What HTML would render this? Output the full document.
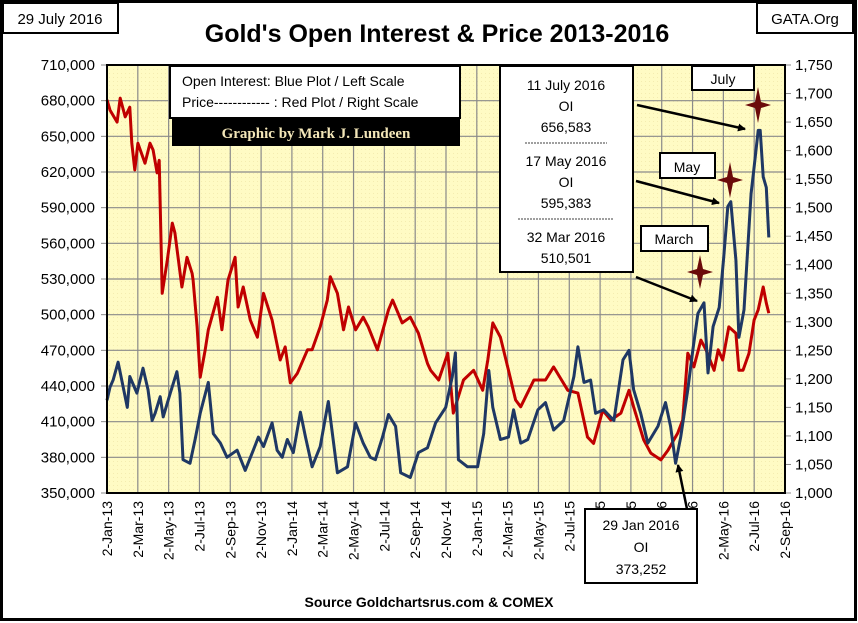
<!DOCTYPE html>
<html><head><meta charset="utf-8">
<style>
html,body{margin:0;padding:0;background:#fff;}
svg{display:block;font-family:"Liberation Sans",Calibri,sans-serif;}
</style></head>
<body>
<svg id="chart" width="858" height="623" viewBox="0 0 858 623" xmlns="http://www.w3.org/2000/svg">
<defs>
<pattern id="dots" width="4" height="4" patternUnits="userSpaceOnUse"><rect width="4" height="4" fill="#fffbc4"/><rect x="1" y="1" width="1" height="1" fill="#f4ecb0"/></pattern>
<marker id="ah" markerWidth="8" markerHeight="8" refX="7" refY="4" orient="auto" markerUnits="userSpaceOnUse"><path d="M0,0 L8,4 L0,8 z" fill="#000"/></marker>
</defs>
<rect x="1.5" y="1.5" width="854" height="618" fill="#fff" stroke="#000" stroke-width="3"/>
<g><rect x="3" y="3" width="115" height="30" fill="#fff" stroke="#000" stroke-width="2"/><text x="60" y="24" font-size="15" text-anchor="middle">29 July 2016</text></g>
<g><rect x="757" y="3" width="96" height="30" fill="#fff" stroke="#000" stroke-width="2"/><text x="805" y="24" font-size="15" text-anchor="middle">GATA.Org</text></g>
<text x="437" y="42" font-size="25" font-weight="bold" text-anchor="middle">Gold's Open Interest &amp; Price 2013-2016</text>
<rect x="107" y="65" width="678" height="428" fill="url(#dots)"/>
<g id="grid"></g>
<g id="axes"></g>
<g id="series"></g>
<rect x="107" y="65" width="678" height="428" fill="none" stroke="#000" stroke-width="2"/>
<g>
<rect x="170" y="66" width="290" height="52" fill="#fff" stroke="#000" stroke-width="2"/>
<text x="182" y="86" font-size="14">Open Interest:  Blue Plot / Left Scale</text>
<text x="182" y="107" font-size="14">Price------------ : Red Plot / Right Scale</text>
<rect x="172" y="119" width="288" height="27" fill="#000"/>
<text x="316" y="138" font-size="15" font-weight="bold" fill="#f3e6b8" text-anchor="middle" font-family="Liberation Serif,serif">Graphic by Mark J. Lundeen</text>
</g>
<g font-size="14" text-anchor="middle">
<rect x="500" y="66" width="133" height="206" fill="#fff" stroke="#000" stroke-width="2"/>
<text x="566" y="90">11 July 2016</text><text x="566" y="111">OI</text><text x="566" y="132">656,583</text>
<line x1="525" y1="143" x2="607" y2="143" stroke="#000" stroke-width="0.8" stroke-dasharray="2,1"/>
<text x="566" y="166">17 May 2016</text><text x="566" y="187">OI</text><text x="566" y="208">595,383</text>
<line x1="518" y1="219" x2="614" y2="219" stroke="#000" stroke-width="0.8" stroke-dasharray="2,1"/>
<text x="566" y="242">32 Mar 2016</text><text x="566" y="263">510,501</text>
</g>
<g><rect x="692" y="66" width="62" height="24" fill="#fff" stroke="#000" stroke-width="2"/><text x="723" y="84" font-size="14" text-anchor="middle">July</text></g>
<g><rect x="660" y="153" width="55" height="25" fill="#fff" stroke="#000" stroke-width="2"/><text x="687" y="172" font-size="14" text-anchor="middle">May</text></g>
<g><rect x="641" y="226" width="67" height="25" fill="#fff" stroke="#000" stroke-width="2"/><text x="674" y="244" font-size="14" text-anchor="middle">March</text></g>
<g font-size="14" text-anchor="middle">
<rect x="585" y="509" width="112" height="74" fill="#fff" stroke="#000" stroke-width="2"/>
<text x="641" y="530">29 Jan 2016</text><text x="641" y="552">OI</text><text x="641" y="574">373,252</text>
</g>
<g stroke="#000" stroke-width="2.5" fill="none">
<line x1="637" y1="105" x2="745" y2="129" marker-end="url(#ah)"/>
<line x1="636" y1="181" x2="719" y2="203" marker-end="url(#ah)"/>
<line x1="636" y1="277" x2="697" y2="301" marker-end="url(#ah)"/>
<line x1="687" y1="509" x2="678" y2="465" marker-end="url(#ah)"/>
</g>
<g fill="#6b0a0a">
<path d="M700,255 L703,269 L713,272 L703,275 L700,289 L697,275 L687,272 L697,269 Z"/>
<path d="M730,162 L733,177 L743,180 L733,183 L730,198 L727,183 L717,180 L727,177 Z"/>
<path d="M758,87 L761,102 L771,105 L761,108 L758,123 L755,108 L745,105 L755,102 Z"/>
</g>
<text x="429" y="607" font-size="14" font-weight="bold" text-anchor="middle">Source Goldchartsrus.com &amp; COMEX</text>
</svg>
<script>
const xTickLabels = ["2-Jan-13","2-Mar-13","2-May-13","2-Jul-13","2-Sep-13","2-Nov-13","2-Jan-14","2-Mar-14","2-May-14","2-Jul-14","2-Sep-14","2-Nov-14","2-Jan-15","2-Mar-15","2-May-15","2-Jul-15","2-Sep-15","2-Nov-15","2-Jan-16","2-Mar-16","2-May-16","2-Jul-16","2-Sep-16"];
const leftTicks = [350000,380000,410000,440000,470000,500000,530000,560000,590000,620000,650000,680000,710000];
const rightTicks = [1000,1050,1100,1150,1200,1250,1300,1350,1400,1450,1500,1550,1600,1650,1700,1750];
// days since 2-Jan-2013
const priceDays = [0,6,20,26,36,45,49,55,61,75,85,91,99,103,109,119,129,134,148,158,168,170,178,184,194,200,218,227,239,253,259,269,283,297,309,326,342,352,362,376,396,405,421,435,441,455,467,477,491,506,516,534,556,564,583,599,615,633,639,655,673,684,704,724,742,752,762,777,793,807,817,843,866,882,910,930,949,961,979,995,1015,1031,1040,1060,1074,1094,1108,1127,1137,1147,1159,1173,1183,1199,1207,1216,1228,1242,1248,1256,1268,1278,1286,1296,1302,1307];
const priceValues = [1689,1671,1650,1692,1659,1676,1613,1566,1613,1578,1613,1601,1561,1583,1350,1408,1473,1456,1361,1413,1385,1373,1291,1203,1251,1286,1343,1286,1373,1413,1326,1361,1303,1273,1350,1303,1233,1256,1193,1210,1251,1251,1291,1338,1379,1350,1286,1326,1286,1308,1291,1251,1321,1338,1298,1308,1280,1227,1215,1198,1245,1140,1198,1215,1180,1233,1298,1273,1215,1163,1151,1198,1198,1221,1180,1175,1098,1087,1145,1128,1140,1180,1151,1093,1070,1058,1075,1105,1128,1245,1221,1268,1251,1215,1251,1233,1291,1280,1215,1215,1245,1303,1321,1361,1333,1315,1350];
const oiDays = [0,6,12,22,32,40,45,59,71,81,89,95,105,111,125,138,144,150,164,174,184,200,210,224,237,257,273,289,299,309,326,336,346,356,368,382,392,405,421,437,455,475,491,506,520,530,544,556,570,580,599,615,633,649,669,682,688,694,712,732,744,754,762,777,793,803,817,831,851,866,882,902,922,930,942,955,965,981,1001,1019,1031,1040,1054,1068,1088,1103,1113,1123,1133,1147,1157,1167,1179,1187,1197,1209,1218,1226,1232,1242,1248,1258,1272,1278,1286,1290,1296,1302,1307];
const oiValues = [428000,439000,445000,460000,439000,422000,448000,434000,455000,437000,411000,417000,431000,414000,434000,452000,434000,378000,375000,395000,417000,443000,400000,392000,380000,386000,369000,386000,397000,389000,409000,386000,380000,395000,384000,418000,397000,372000,389000,427000,367000,372000,409000,392000,380000,378000,397000,416000,406000,367000,363000,384000,388000,409000,422000,448000,468000,378000,372000,372000,400000,453000,422000,395000,397000,420000,392000,395000,420000,426000,403000,411000,448000,473000,443000,445000,417000,420000,411000,462000,470000,437000,417000,392000,406000,426000,406000,375000,397000,437000,470000,501000,510000,451000,490000,506000,548000,591000,595000,546000,481000,504000,602000,624000,655000,655000,616000,607000,565000];

const NS="http://www.w3.org/2000/svg";
const X0=107,X1=785,Y0=65,Y1=493,DAYS=1339;
const xS=d=>X0+(X1-X0)*d/DAYS;
const yL=v=>Y1-(Y1-Y0)*(v-350000)/360000;
const yR=v=>Y1-(Y1-Y0)*(v-1000)/750;
function mk(tag,attrs,parent){const e=document.createElementNS(NS,tag);for(const k in attrs)e.setAttribute(k,attrs[k]);parent.appendChild(e);return e;}
const grid=document.getElementById('grid'),axes=document.getElementById('axes'),series=document.getElementById('series');
leftTicks.forEach((v,i)=>{
  const y=yL(v);
  const g=mk('line',{x1:X0,x2:X1,y1:y,y2:y,stroke:'#8a8a8a','stroke-width':1.2},grid);
  
  
  mk('line',{x1:X0-6,x2:X0,y1:y,y2:y,stroke:'#888'},axes);
  const t=mk('text',{x:95,y:y+5,'font-size':15,'text-anchor':'end'},axes);
  t.textContent=v.toLocaleString('en-US');
  
  
});
rightTicks.forEach(v=>{
  const y=yR(v);
  mk('line',{x1:X1,x2:X1+6,y1:y,y2:y,stroke:'#888'},axes);
  const t=mk('text',{x:795,y:y+5,'font-size':15},axes);
  t.textContent=v.toLocaleString('en-US');
  
  
});
xTickLabels.forEach((s,i)=>{
  const x=X0+(X1-X0)*i/(xTickLabels.length-1);
  const g=mk('line',{x1:x,x2:x,y1:Y0,y2:Y1,stroke:'#8a8a8a','stroke-width':1.2},grid);
  
  
  const t=mk('text',{x:0,y:0,'font-size':14,'text-anchor':'end',transform:`translate(${x+5},${Y1+8}) rotate(-90)`},axes);
  t.textContent=s;
  
  
});
const rp=mk('path',{d:priceDays.map((d,i)=>(i?'L':'M')+xS(d).toFixed(1)+','+yR(priceValues[i]).toFixed(1)).join(''),fill:'none',stroke:'#c00000','stroke-width':3,'stroke-linejoin':'round'},series);


const bp=mk('path',{d:oiDays.map((d,i)=>(i?'L':'M')+xS(d).toFixed(1)+','+yL(oiValues[i]).toFixed(1)).join(''),fill:'none',stroke:'#1f3864','stroke-width':3,'stroke-linejoin':'round'},series);


</script>
</body></html>
